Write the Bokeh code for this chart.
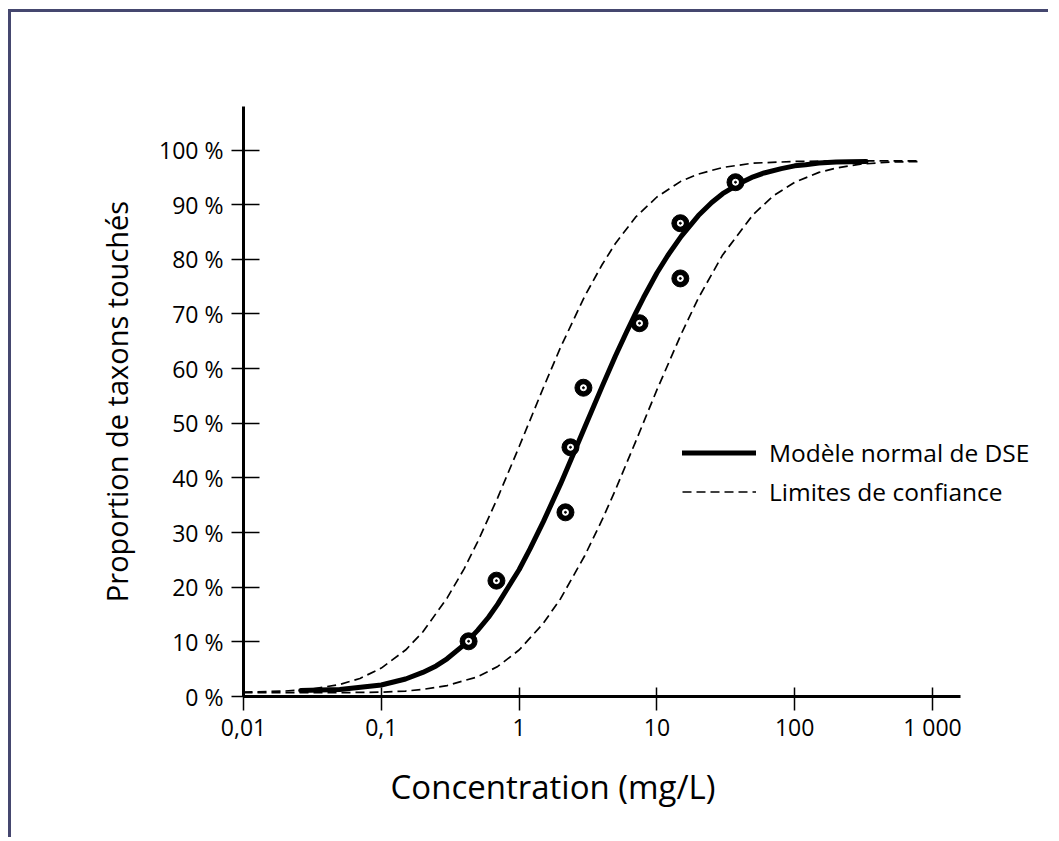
from bokeh.plotting import figure
from bokeh.models import Range1d, FixedTicker, Legend, LegendItem, Title
from bokeh.embed import file_html
from bokeh.resources import INLINE

# ---- data ----
x_ticks = [0.01, 0.1, 1, 10, 100, 1000]
x_tick_labels = ["0,01", "0,1", "1", "10", "100", "1 000"]
y_ticks = [0, 10, 20, 30, 40, 50, 60, 70, 80, 90, 100]
y_tick_labels = ["0 %", "10 %", "20 %", "30 %", "40 %", "50 %", "60 %", "70 %", "80 %", "90 %", "100 %"]

# fitted normal SSD model (solid curve)
model_conc = [0.026, 0.05, 0.1, 0.15, 0.2, 0.25, 0.3, 0.4, 0.5, 0.6, 0.7, 1, 1.2, 1.5, 2, 2.5, 3, 4, 5,
              6, 7, 8, 10, 12, 15, 20, 25, 30, 40, 50, 60, 80, 100, 120, 150, 200, 250, 330]
model_pct = [1.1, 1.3, 2.1, 3.2, 4.4, 5.6, 6.9, 9.5, 12.1, 14.5, 16.9, 23.2, 27.0, 32.0, 38.9, 44.6, 49.3, 56.7, 62.3,
             66.6, 70.1, 73.0, 77.5, 80.7, 84.2, 88.0, 90.4, 92.0, 93.9, 95.1, 95.8, 96.6, 97.1, 97.3, 97.6, 97.8, 97.85, 97.9]

# confidence limits (dashed curves)
conf_left_conc = [0.01, 0.02, 0.03, 0.05, 0.07, 0.1, 0.15, 0.2, 0.3, 0.4, 0.5, 0.7, 1, 1.5, 2, 3,
                  4, 5, 7, 10, 15, 20, 30, 50, 100, 200, 400, 830]
conf_left_pct = [0.8, 1.0, 1.3, 2.2, 3.3, 5.2, 8.5, 11.8, 18.0, 23.4, 28.3, 36.4, 45.7, 56.5, 63.9, 73.3,
                 79.0, 82.9, 87.7, 91.4, 94.3, 95.6, 96.8, 97.6, 97.9, 98.0, 98.0, 98.0]
conf_right_conc = [0.01, 0.03, 0.05, 0.1, 0.15, 0.2, 0.3, 0.5, 0.7, 1, 1.5, 2, 3, 4, 5, 7,
                   10, 15, 20, 30, 50, 70, 100, 150, 200, 300, 500, 830]
conf_right_pct = [0.7, 0.7, 0.7, 0.8, 1.0, 1.3, 2.0, 3.6, 5.5, 8.5, 13.4, 17.9, 25.8, 32.3, 37.8, 46.6,
                  56.1, 66.3, 72.9, 80.8, 88.2, 91.6, 94.1, 95.9, 96.7, 97.4, 97.8, 97.9]

# observed taxa sensitivities (points)
obs_conc = [0.43, 0.685, 2.17, 2.36, 2.93, 7.48, 14.8, 14.8, 37.2]
obs_pct = [10.1, 21.2, 33.7, 45.6, 56.5, 68.3, 76.5, 86.6, 94.1]

legend_labels = ["Modèle normal de DSE", "Limites de confiance"]
x_title = "Concentration (mg/L)"
y_title = "Proportion de taxons touchés"

FONT = "Open Sans"
FRAME_COLOR = "#45476f"
X_AXIS_END = 1596  # end of the drawn x axis line

p = figure(
    width=1040, height=828,
    x_axis_type="log",
    x_range=Range1d(0.01, 6500), y_range=Range1d(0, 107.96),
    output_backend="svg", toolbar_location=None,
    min_border_left=232, min_border_right=7, min_border_top=94, min_border_bottom=144,
    background_fill_color="white", border_fill_color="white",
)
p.outline_line_color = None
p.grid.visible = False
p.styles = {
    "border-left": f"3px solid {FRAME_COLOR}",
    "border-top": f"3px solid {FRAME_COLOR}",
    "position": "relative", "left": "8px", "top": "9px",
}

# axes
for ax in (p.xaxis[0], p.yaxis[0]):
    ax.axis_line_width = 3
    ax.axis_line_color = "black"
    ax.major_tick_line_width = 1.5
    ax.major_tick_line_color = "black"
    ax.minor_tick_line_color = None
    ax.major_label_text_font = FONT
    ax.major_label_text_font_size = "23px"
    ax.major_label_text_color = "black"
    ax.axis_label_text_font = FONT
    ax.axis_label_text_font_style = "normal"
    ax.axis_label_text_color = "black"

xa = p.xaxis[0]
xa.bounds = (0.01, X_AXIS_END)
xa.ticker = FixedTicker(ticks=x_ticks)
xa.major_label_overrides = {t: l for t, l in zip(x_ticks, x_tick_labels)}
xa.major_tick_in = 9
xa.major_tick_out = 14
xa.major_label_standoff = 0

ya = p.yaxis[0]
ya.ticker = FixedTicker(ticks=y_ticks)
ya.major_label_overrides = {t: l for t, l in zip(y_ticks, y_tick_labels)}
ya.major_tick_in = 16
ya.major_tick_out = 12
ya.major_label_standoff = 8
ya.axis_label = y_title
ya.axis_label_text_font_size = "29px"
ya.axis_label_standoff = 20

# x axis title (not centred on the axis in the reference)
p.add_layout(Title(text=x_title, align="left", offset=147, standoff=32,
                   text_font=FONT, text_font_size="33px", text_font_style="normal",
                   text_color="black"), "below")

# curves
r_left = p.line(conf_left_conc, conf_left_pct, line_color="black", line_width=1.7, line_dash="9 5")
r_right = p.line(conf_right_conc, conf_right_pct, line_color="black", line_width=1.7, line_dash="9 5")
r_model = p.line(model_conc, model_pct, line_color="black", line_width=5, line_cap="round", line_join="round")

# points: black ring with white centre and tiny black dot
p.scatter(obs_conc, obs_pct, size=17, marker="circle", fill_color="black", line_color="black")
p.scatter(obs_conc, obs_pct, size=6, marker="circle", fill_color="white", line_color="white")
p.scatter(obs_conc, obs_pct, size=2, marker="circle", fill_color="black", line_color="black")

legend = Legend(
    items=[LegendItem(label=legend_labels[0], renderers=[r_model]),
           LegendItem(label=legend_labels[1], renderers=[r_left])],
    location=(439, 185),
    border_line_color=None, background_fill_alpha=0,
    padding=0, margin=0, spacing=0,
    glyph_width=74, glyph_height=39, label_height=39, label_standoff=13,
    label_text_font=FONT, label_text_font_size="24.5px", label_text_color="black",
)
p.add_layout(legend)

open("out.html", "w").write(file_html(p, INLINE))
